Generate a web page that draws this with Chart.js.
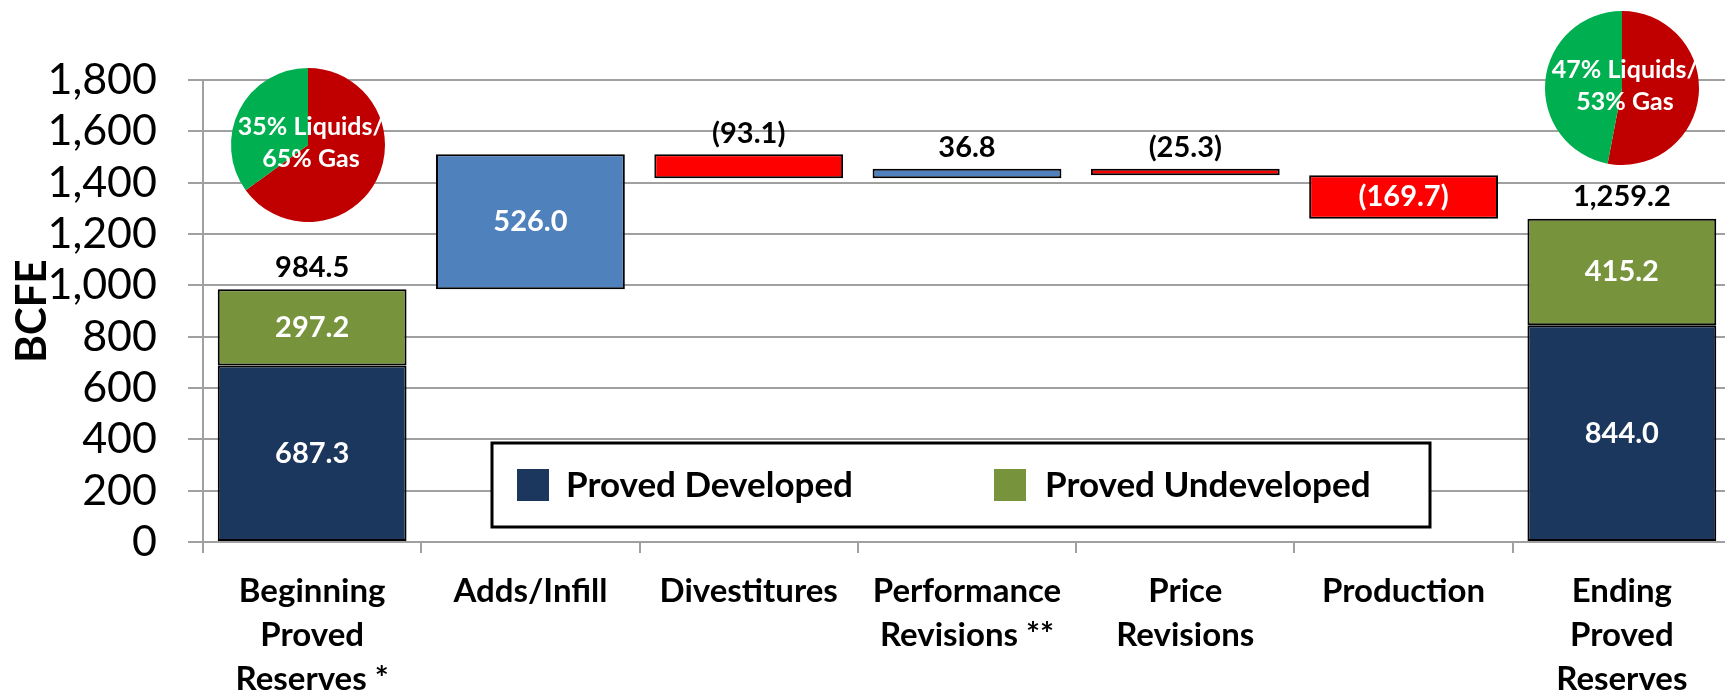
<!DOCTYPE html>
<html>
<head>
<title>Proved Reserves Roll-Forward</title>
<script src="https://cdn.jsdelivr.net/npm/chart.js"></script>
<style>
  html, body { margin: 0; padding: 0; background: #fff; overflow: hidden; }
  #wrap { position: relative; width: 1725px; height: 694px; overflow: hidden; }
  #wrap canvas { position: absolute; }
</style>
</head>
<body>
<div id="wrap">
  <canvas id="reserves" width="1735" height="694" style="left:0;top:0"></canvas>
  <canvas id="pieBegin" width="200" height="200" style="left:208px;top:45px"></canvas>
  <canvas id="pieEnd" width="200" height="200" style="left:1522px;top:-12px"></canvas>
</div>
<script>
// values
const categories = [
  ['Beginning', 'Proved', 'Reserves *'],
  ['Adds/Infill'],
  ['Divestitures'],
  ['Performance', 'Revisions **'],
  ['Price', 'Revisions'],
  ['Production'],
  ['Ending', 'Proved', 'Reserves']
];
const developed   = [687.3, null, null, null, null, null, 844.0];
const undeveloped = [297.2, null, null, null, null, null, 415.2];
const changes     = [null, 526.0, -93.1, 36.8, -25.3, -169.7, null];
const liquidsPct  = [35, 47];
const gasPct      = [65, 53];
const yMin = 0, yMax = 1800, yStep = 200;

const NAVY = '#1b375e', OLIVE = '#77933c', BLUE = '#4f81bd', RED = '#ff0000';
const GRID = '#a0a0a0';

Chart.defaults.font.family = 'Lato';
Chart.defaults.color = '#000';

// waterfall ranges
const devBars = developed.map(v => v == null ? null : [0, v]);
const undevBars = undeveloped.map((v, i) => v == null ? null : [developed[i], developed[i] + v]);
let running = developed[0] + undeveloped[0];
const changeBars = changes.map(v => {
  if (v == null) return null;
  const start = running;
  running += v;
  return [Math.min(start, running), Math.max(start, running)];
});
const changeColors = changes.map(v => v < 0 ? RED : BLUE);

function fmt(v) {
  const s = Math.abs(v).toLocaleString('en-US', { minimumFractionDigits: 1, maximumFractionDigits: 1 });
  return v < 0 ? '(' + s + ')' : s;
}

const valueLabels = {
  id: 'valueLabels',
  afterDatasetsDraw(chart) {
    const ctx = chart.ctx;
    ctx.save();
    ctx.font = 'bold 29px Lato';
    ctx.textAlign = 'center';
    ctx.textBaseline = 'middle';
    const segs = [developed, undeveloped];
    segs.forEach((arr, d) => {
      chart.getDatasetMeta(d).data.forEach((el, i) => {
        if (arr[i] == null) return;
        ctx.fillStyle = '#fff';
        ctx.fillText(fmt(arr[i]), el.x, (el.y + el.base) / 2);
        if (d === 1) {
          ctx.fillStyle = '#000';
          ctx.fillText(fmt(developed[i] + undeveloped[i]), el.x, Math.min(el.y, el.base) - 22);
        }
      });
    });
    chart.getDatasetMeta(2).data.forEach((el, i) => {
      if (changes[i] == null) return;
      const h = Math.abs(el.base - el.y);
      if (h > 35) {
        ctx.fillStyle = '#fff';
        ctx.fillText(fmt(changes[i]), el.x, (el.y + el.base) / 2);
      } else {
        ctx.fillStyle = '#000';
        ctx.fillText(fmt(changes[i]), el.x, Math.min(el.y, el.base) - 21);
      }
    });
    ctx.restore();
  }
};

const boxLegend = {
  id: 'boxLegend',
  afterDraw(chart) {
    const ctx = chart.ctx;
    ctx.save();
    ctx.fillStyle = '#fff';
    ctx.fillRect(492, 443, 938, 84);
    ctx.strokeStyle = '#000';
    ctx.lineWidth = 3;
    ctx.strokeRect(492, 443, 938, 84);
    ctx.font = 'bold 35px Lato';
    ctx.textBaseline = 'middle';
    ctx.textAlign = 'left';
    const items = [{ sx: 517, tx: 566 }, { sx: 994, tx: 1045 }];
    items.forEach((it, d) => {
      const ds = chart.data.datasets[d];
      ctx.fillStyle = ds.backgroundColor;
      ctx.fillRect(it.sx, 469, 32, 32);
      ctx.fillStyle = '#000';
      ctx.fillText(ds.label, it.tx, 486);
    });
    ctx.restore();
  }
};

new Chart(document.getElementById('reserves'), {
  type: 'bar',
  data: {
    labels: categories,
    datasets: [
      { label: 'Proved Developed', data: devBars, backgroundColor: NAVY },
      { label: 'Proved Undeveloped', data: undevBars, backgroundColor: OLIVE },
      { label: 'Change', data: changeBars, backgroundColor: changeColors }
    ]
  },
  options: {
    responsive: false,
    animation: false,
    events: [],
    layout: { padding: { top: 80, left: 0, right: 4, bottom: 0 } },
    datasets: {
      bar: {
        grouped: false,
        barPercentage: 0.865,
        categoryPercentage: 1,
        borderColor: '#000',
        borderWidth: 2,
        borderSkipped: false
      }
    },
    plugins: {
      legend: { display: false },
      tooltip: { enabled: false }
    },
    scales: {
      x: {
        afterFit(scale) { scale.height = 152; },
        border: { color: GRID, width: 2 },
        grid: { drawOnChartArea: false, drawTicks: true, tickLength: 11, color: GRID, lineWidth: 2 },
        ticks: {
          maxRotation: 0, autoSkip: false, padding: 16,
          color: '#000',
          font: { size: 33, weight: 'bold', lineHeight: 1.333 }
        }
      },
      y: {
        min: yMin, max: yMax,
        afterFit(scale) { scale.width = 203; },
        border: { color: GRID, width: 2 },
        grid: { color: GRID, lineWidth: 2, tickLength: 15 },
        ticks: {
          stepSize: yStep, autoSkip: false, padding: 31, color: '#000',
          font: { size: 43, lineHeight: 1.0 },
          callback: v => v.toLocaleString('en-US')
        },
        title: {
          display: true, text: 'BCFE', color: '#000',
          font: { size: 42, weight: 'bold', lineHeight: 1.2 },
          padding: { top: 7, bottom: 0 }
        }
      }
    }
  },
  plugins: [valueLabels, boxLegend]
});

function makePie(id, i) {
  new Chart(document.getElementById(id), {
    type: 'pie',
    data: {
      labels: ['Gas', 'Liquids'],
      datasets: [{ data: [gasPct[i], liquidsPct[i]], backgroundColor: ['#c00000', '#00b050'], borderWidth: 0 }]
    },
    options: {
      responsive: false,
      animation: false,
      events: [],
      layout: { padding: 23 },
      plugins: { legend: { display: false }, tooltip: { enabled: false } }
    },
    plugins: [{
      id: 'pieText',
      afterDraw(c) {
        const ctx = c.ctx;
        const cx = (c.chartArea.left + c.chartArea.right) / 2;
        const cy = (c.chartArea.top + c.chartArea.bottom) / 2;
        ctx.save();
        ctx.font = 'bold 25px Lato';
        ctx.fillStyle = '#fff';
        ctx.textAlign = 'center';
        ctx.textBaseline = 'middle';
        ctx.fillText(liquidsPct[i] + '% Liquids/', cx + 3, cy - 18);
        ctx.fillText(gasPct[i] + '% Gas', cx + 3, cy + 14);
        ctx.restore();
      }
    }]
  });
}
makePie('pieBegin', 0);
makePie('pieEnd', 1);
</script>
</body>
</html>
